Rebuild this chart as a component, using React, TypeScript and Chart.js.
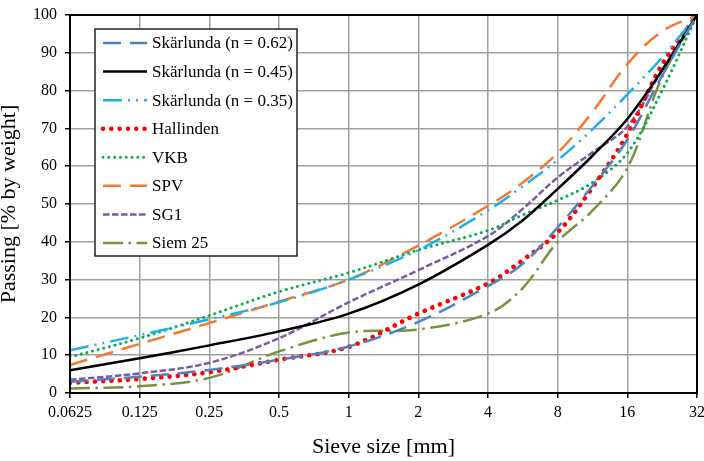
import { useEffect, useRef } from 'react';
import { Chart, registerables } from 'chart.js';

Chart.register(...registerables);

// ---- data ----
const sieveSizes = [0.0625, 0.125, 0.25, 0.5, 1, 2, 4, 5.6, 8, 11.2, 16, 22.4, 32];
const xTickValues = [0.0625, 0.125, 0.25, 0.5, 1, 2, 4, 8, 16, 32];
const xTickLabels = ['0.0625', '0.125', '0.25', '0.5', '1', '2', '4', '8', '16', '32'];

const seriesNames = [
  'Skärlunda (n = 0.62)',
  'Skärlunda (n = 0.45)',
  'Skärlunda (n = 0.35)',
  'Hallinden',
  'VKB',
  'SPV',
  'SG1',
  'Siem 25',
];

const skarlunda062 = [3.0, 4.3, 6.1, 8.8, 12.3, 18.8, 28.3, 34.0, 43.8, 54.5, 67.0, 83.5, 100];
const skarlunda045 = [6.0, 9.2, 12.6, 16.3, 21.0, 28.7, 39.2, 45.5, 54.0, 62.5, 72.5, 85.0, 100];
const skarlunda035 = [11.3, 15.3, 19.5, 24.0, 30.0, 37.8, 48.3, 54.5, 61.6, 69.5, 79.0, 88.5, 100];
const hallinden = [2.7, 3.7, 5.5, 8.8, 12.2, 21.0, 29.0, 35.0, 42.5, 54.0, 68.5, 86.5, 100];
const vkb = [9.5, 14.5, 20.5, 26.8, 31.8, 37.8, 43.0, 47.0, 51.0, 55.5, 63.5, 79.5, 100];
const spv = [7.4, 13.0, 18.5, 24.2, 30.0, 39.0, 49.5, 55.5, 63.5, 74.0, 87.0, 95.5, 100];
const sg1 = [3.5, 5.2, 8.0, 14.5, 24.0, 32.5, 41.5, 48.5, 57.0, 63.5, 70.5, 85.0, 100];
const siem25 = [1.2, 1.8, 4.0, 11.0, 16.0, 16.8, 21.0, 27.5, 40.0, 48.0, 59.5, 83.0, 100];

const seriesValues = [skarlunda062, skarlunda045, skarlunda035, hallinden, vkb, spv, sg1, siem25];

const seriesStyles = [
  { color: '#4f81bd', width: 2.5, dash: [18, 9], cap: 'butt' },
  { color: '#000000', width: 2.5, dash: [], cap: 'butt' },
  { color: '#1fb0ec', width: 2.5, dash: [19, 6, 2, 6, 2, 6], cap: 'butt' },
  { color: '#ff0000', width: 4.6, dash: [0.01, 8.3], cap: 'round' },
  { color: '#00b050', width: 3, dash: [0.01, 5.8], cap: 'round' },
  { color: '#ee7b30', width: 2.5, dash: [18, 9], cap: 'butt' },
  { color: '#7a5aa6', width: 2.5, dash: [6.5, 2.5], cap: 'butt' },
  { color: '#77933c', width: 2.5, dash: [20, 5.5, 2.5, 5.5], cap: 'butt' },
];

const FONT = '"Liberation Serif", "Times New Roman", serif';

const frameAndLegend = {
  id: 'frameAndLegend',
  afterDatasetsDraw(chart: any) {
    const ctx = chart.ctx as CanvasRenderingContext2D;
    const { left, right, top, bottom } = chart.chartArea;
    ctx.save();
    // plot frame
    ctx.strokeStyle = '#000';
    ctx.lineWidth = 2;
    ctx.setLineDash([]);
    ctx.strokeRect(left, top, right - left, bottom - top);

    // legend box
    const bx = left + 25;
    const by = top + 14;
    const bw = 202;
    const bh = 227;
    ctx.fillStyle = '#fff';
    ctx.fillRect(bx, by, bw, bh);
    ctx.strokeStyle = '#222';
    ctx.lineWidth = 1.5;
    ctx.strokeRect(bx, by, bw, bh);

    const rowStep = 28.57;
    chart.data.datasets.forEach((ds: any, i: number) => {
      const y = by + 14 + i * rowStep;
      ctx.save();
      ctx.strokeStyle = ds.borderColor;
      ctx.lineWidth = ds.borderWidth;
      ctx.lineCap = ds.borderCapStyle;
      ctx.setLineDash(ds.borderDash || []);
      ctx.beginPath();
      ctx.moveTo(bx + 8, y);
      ctx.lineTo(bx + 52, y);
      ctx.stroke();
      ctx.restore();
      ctx.fillStyle = '#000';
      ctx.font = `17px ${FONT}`;
      ctx.textBaseline = 'middle';
      ctx.textAlign = 'left';
      ctx.fillText(ds.label, bx + 57, y + 1);
    });
    ctx.restore();
  },
};

export default function App() {
  const canvasRef = useRef<HTMLCanvasElement | null>(null);

  useEffect(() => {
    if (!canvasRef.current) return;
    const datasets = seriesNames.map((name, i) => ({
      label: name,
      data: sieveSizes.map((x, j) => ({ x, y: seriesValues[i][j] })),
      borderColor: seriesStyles[i].color,
      backgroundColor: seriesStyles[i].color,
      borderWidth: seriesStyles[i].width,
      borderDash: seriesStyles[i].dash,
      borderCapStyle: seriesStyles[i].cap,
      pointRadius: 0,
      tension: 0.35,
      fill: false,
    }));

    const chart = new Chart(canvasRef.current, {
      type: 'line',
      data: { datasets: datasets as any },
      options: {
        animation: false,
        responsive: false,
        devicePixelRatio: 1,
        layout: { padding: { left: 0, right: 7, top: 15, bottom: 0 } },
        plugins: { legend: { display: false }, tooltip: { enabled: false } },
        scales: {
          x: {
            type: 'logarithmic',
            min: 0.0625,
            max: 32,
            afterBuildTicks: (scale: any) => {
              scale.ticks = xTickValues.map((v) => ({ value: v }));
            },
            afterFit: (scale: any) => {
              scale.height = 68;
              scale.paddingLeft = 0;
              scale.paddingRight = 0;
            },
            ticks: {
              autoSkip: false,
              maxRotation: 0,
              padding: 5,
              color: '#000',
              font: { family: FONT, size: 16 },
              callback: (value: any) => {
                const idx = xTickValues.indexOf(Number(value));
                return idx >= 0 ? xTickLabels[idx] : '';
              },
            },
            grid: { color: '#a0a0a0', lineWidth: 1.5, tickLength: 5, tickColor: '#000' },
            border: { color: '#000', width: 2 },
            title: {
              display: true,
              text: 'Sieve size [mm]',
              color: '#000',
              font: { family: FONT, size: 22 },
              padding: { top: 0, bottom: 1 },
            },
          },
          y: {
            min: 0,
            max: 100,
            afterFit: (scale: any) => {
              scale.width = 70;
              scale.paddingTop = 0;
              scale.paddingBottom = 0;
            },
            ticks: {
              stepSize: 10,
              padding: 8,
              color: '#000',
              font: { family: FONT, size: 16 },
            },
            grid: { color: '#a0a0a0', lineWidth: 1.5, tickLength: 5, tickColor: '#000' },
            border: { color: '#000', width: 2 },
            title: {
              display: true,
              text: 'Passing [% by weight]',
              color: '#000',
              font: { family: FONT, size: 22, lineHeight: 0.85 },
              padding: { top: 0, bottom: 0 },
            },
          },
        },
      },
      plugins: [frameAndLegend],
    } as any);

    return () => chart.destroy();
  }, []);

  return (
    <div style={{ position: 'absolute', left: 0, top: 0, width: 704, height: 461, background: '#fff' }}>
      <canvas ref={canvasRef} width={704} height={461} />
    </div>
  );
}
